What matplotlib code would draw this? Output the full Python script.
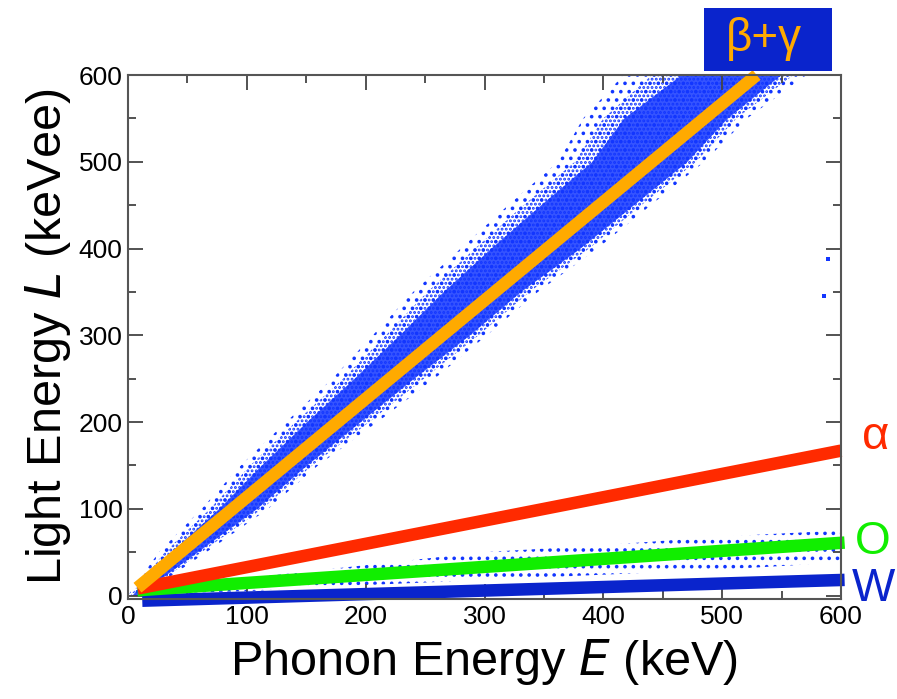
import matplotlib
matplotlib.use("Agg")
import matplotlib.pyplot as plt
from matplotlib.patches import Rectangle
import numpy as np

plt.rcParams['font.family'] = ['Liberation Sans', 'DejaVu Sans']
plt.rcParams['hatch.linewidth'] = 1.4

# beta/gamma event band: E edges of the sparse fringe, the mid zone and the dense core at given L
band_L = [0, 50, 100, 150, 200, 250, 300, 350, 400, 450, 500, 550, 600]
fringe_lo = [0, 26, 62, 95, 133, 172, 206, 240, 280, 320, 362, 383, 417]
fringe_hi = [12, 66, 118, 160, 210, 258, 302, 345, 395, 440, 485, 521, 571]
mid_lo = [2, 31, 69, 103, 141, 181, 217, 252, 292, 333, 376, 400, 441]
mid_hi = [10, 62, 113, 155, 203, 249, 295, 338, 388, 432, 478, 512, 560]
core_lo = [3, 36, 76, 112, 150, 190, 228, 265, 305, 347, 390, 417, 465]
core_hi = [8, 58, 108, 150, 195, 240, 287, 330, 380, 425, 470, 504, 549]

# oxygen recoil band (L edges at given E)
oband_E = [15, 100, 200, 300, 400, 500, 600]
oband_lo = [2, 5, 12, 18, 24, 30, 38]
oband_hi = [10, 20, 35, 50, 58, 68, 75]

# isolated events near the right edge
out_E = [589, 586]
out_L = [388, 345]

# quenching lines (start, end)
beta_E, beta_L = [8, 529], [9, 600]
alpha_E, alpha_L = [8, 600], [8, 167]
oxy_E, oxy_L = [8, 603], [6, 61]
w_E, w_L = [12, 603], [-6, 18]

dot_blue = '#1236ff'

fig = plt.figure(figsize=(8.97, 6.99), dpi=100)
ax = fig.add_axes([0.1427, 0.1431, 0.7949, 0.7496])

ax.fill_betweenx(band_L, fringe_lo, fringe_hi, facecolor='none',
                 edgecolor=dot_blue, linewidth=0, hatch='..')
ax.fill_betweenx(band_L, mid_lo, mid_hi, facecolor='none',
                 edgecolor=dot_blue, linewidth=0, hatch='....')
ax.fill_betweenx(band_L, core_lo, core_hi, facecolor=dot_blue,
                 edgecolor=dot_blue, linewidth=0, alpha=0.85)
ax.fill_between(oband_E, oband_lo, oband_hi, facecolor='none',
                edgecolor=dot_blue, linewidth=0, hatch='..')
ax.scatter(out_E, out_L, s=5, marker='s', color=dot_blue, linewidths=0)

lw = 9
ax.plot(w_E, w_L, color='#0a24cc', lw=lw, solid_capstyle='butt', clip_on=False)
ax.plot(oxy_E, oxy_L, color='#11ee00', lw=lw, solid_capstyle='butt', clip_on=False)
ax.plot(alpha_E, alpha_L, color='#ff2a00', lw=lw, solid_capstyle='butt', clip_on=False)
ax.plot(beta_E, beta_L, color='#ffaa00', lw=lw, solid_capstyle='butt', clip_on=False)

ax.set_xlim(0, 600)
ax.set_ylim(-4, 600)
ax.set_xticks(np.arange(0, 601, 100))
ax.set_yticks(np.arange(0, 601, 100))
ax.set_xticks(np.arange(0, 601, 50), minor=True)
ax.set_yticks(np.arange(0, 601, 50), minor=True)
ax.tick_params(which='both', direction='in', top=True, right=True,
               color='#444444', width=1.3, labelsize=19, pad=4)
ax.tick_params(which='major', length=11)
ax.tick_params(which='minor', length=6)
for sp in ax.spines.values():
    sp.set_color('#555555')
    sp.set_linewidth(1.5)

ax.set_xlabel('Phonon Energy $\\it{E}$ (keV)', fontsize=35, labelpad=6)
ax.set_ylabel('Light Energy $\\it{L}$ (keVee)', fontsize=35, labelpad=4)

ytr = ax.get_yaxis_transform()
ax.text(1.048, 183, '\u03b1', transform=ytr, color='#ff2a00',
        fontsize=34, va='center', ha='center')
ax.text(1.045, 62, 'O', transform=ytr, color='#11ee00',
        fontsize=33, va='center', ha='center')
ax.text(1.045, 8, 'W', transform=ytr, color='#0a24cc',
        fontsize=33, va='center', ha='center')

# beta+gamma tag above the plot
fig.patches.append(Rectangle((0.7848, 0.8984), 0.1427, 0.0902,
                             transform=fig.transFigure, facecolor='#0a24cc',
                             edgecolor='none'))
fig.text(0.8517, 0.9440, '\u03b2+\u03b3', color='#ffaa00', fontsize=33,
         ha='center', va='center')

fig.savefig('out.png', dpi=100)
